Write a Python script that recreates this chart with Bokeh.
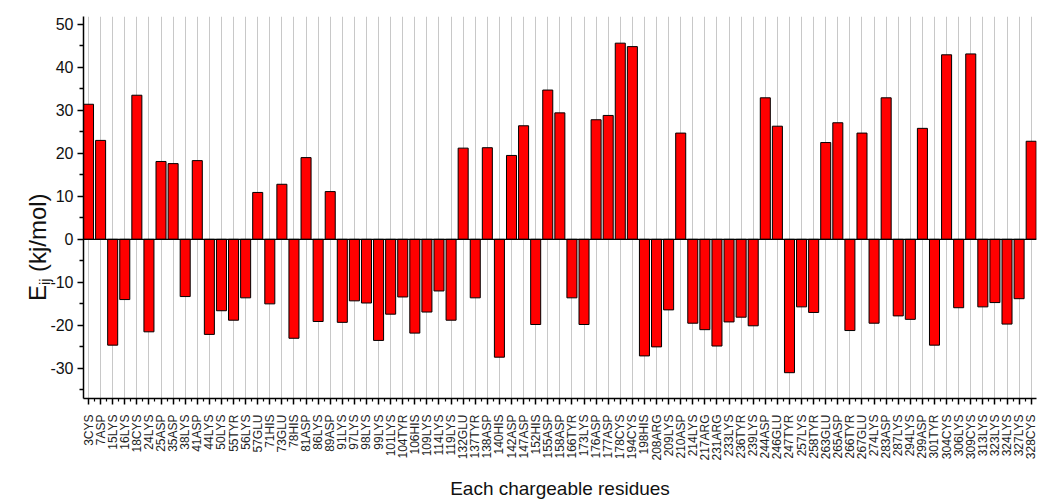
import math
from bokeh.plotting import figure
from bokeh.models import Range1d, FixedTicker, Span, ColumnDataSource, Div
from bokeh.layouts import row
from bokeh.embed import file_html
from bokeh.resources import INLINE

residues = ["3CYS", "7ASP", "15LYS", "16LYS", "18CYS", "24LYS", "25ASP", "35ASP", "38LYS", "41ASP",
            "44LYS", "50LYS", "55TYR", "56LYS", "57GLU", "71HIS", "73GLU", "78HIS", "81ASP", "86LYS",
            "89ASP", "91LYS", "97LYS", "98LYS", "99LYS", "101LYS", "104TYR", "106HIS", "109LYS", "114LYS",
            "119LYS", "132GLU", "137TYR", "138ASP", "140HIS", "142ASP", "147ASP", "152HIS", "155ASP", "158ASP",
            "166TYR", "173LYS", "176ASP", "177ASP", "178CYS", "194CYS", "198HIS", "208ARG", "209LYS", "210ASP",
            "214LYS", "217ARG", "231ARG", "233LYS", "236TYR", "239LYS", "244ASP", "246GLU", "247TYR", "257LYS",
            "258TYR", "263GLU", "265ASP", "266TYR", "267GLU", "274LYS", "283ASP", "287LYS", "294LYS", "299ASP",
            "301TYR", "304CYS", "306LYS", "309CYS", "313LYS", "323LYS", "324LYS", "327LYS", "328CYS"]

energies = [31.4, 23.0, -24.6, -14.0, 33.5, -21.5, 18.1, 17.6, -13.3, 18.3,
            -22.1, -16.6, -18.8, -13.6, 10.9, -15.0, 12.8, -23.0, 19.0, -19.1,
            11.1, -19.3, -14.3, -14.8, -23.5, -17.4, -13.4, -21.8, -16.9, -12.0,
            -18.8, 21.2, -13.6, 21.3, -27.4, 19.5, 26.4, -19.8, 34.7, 29.4,
            -13.6, -19.8, 27.8, 28.8, 45.6, 44.8, -27.1, -25.0, -16.4, 24.7,
            -19.5, -21.0, -24.8, -19.2, -18.1, -20.1, 32.9, 26.3, -31.0, -15.7,
            -17.0, 22.5, 27.1, -21.2, 24.7, -19.5, 32.9, -17.8, -18.6, 25.8,
            -24.6, 42.9, -15.9, 43.1, -15.7, -14.7, -19.7, -13.8, 22.8]

y_major = [-30, -20, -10, 0, 10, 20, 30, 40, 50]
y_major_labels = ["-30", "-20", "-10", "0", "10", "20", "30", "40", "50"]
y_minor = [-35, -25, -15, -5, 5, 15, 25, 35, 45]

pos = list(range(1, len(residues) + 1))
src = ColumnDataSource(dict(x=pos, top=energies, name=residues))

FONT = "Liberation Sans"
LABEL_W = 40

p = figure(width=1037 - LABEL_W, height=502, output_backend="svg", toolbar_location=None,
           x_range=Range1d(0.585, 79.44), y_range=Range1d(-37, 51.8),
           min_border_left=83 - LABEL_W, min_border_right=1, min_border_top=16, min_border_bottom=104)
p.outline_line_color = None
p.background_fill_color = "white"
p.border_fill_color = None

p.vbar(x="x", top="top", bottom=0, width=0.83, source=src,
       fill_color="#ff0000", line_color="black", line_width=1)
p.add_layout(Span(location=0, dimension="width", line_color="black", line_width=1.2))

# x axis
xa = p.xaxis[0]
xa.ticker = FixedTicker(ticks=pos, minor_ticks=[i + 0.5 for i in range(0, len(residues) + 1)])
xa.major_label_overrides = {i: n for i, n in zip(pos, residues)}
xa.major_label_orientation = math.pi / 2
xa.major_label_text_font = FONT
xa.major_label_text_font_size = "12px"
xa.major_label_text_color = "#222222"
xa.major_label_standoff = 10
xa.major_tick_in = 0
xa.major_tick_out = 6
xa.minor_tick_in = 0
xa.minor_tick_out = 3
xa.axis_line_color = "black"
xa.axis_line_width = 1.5
xa.major_tick_line_width = 1.5
xa.minor_tick_line_width = 1.2
xa.axis_label = "Each chargeable residues"
xa.axis_label_text_font = FONT
xa.axis_label_text_font_size = "19px"
xa.axis_label_text_font_style = "normal"
xa.axis_label_text_color = "#111111"
xa.axis_label_standoff = 14

# y axis
ya = p.yaxis[0]
ya.ticker = FixedTicker(ticks=y_major, minor_ticks=y_minor)
ya.major_label_overrides = {v: s for v, s in zip(y_major, y_major_labels)}
ya.major_label_text_font = FONT
ya.major_label_text_font_size = "16px"
ya.major_label_text_color = "#111111"
ya.major_tick_in = 0
ya.major_tick_out = 6
ya.minor_tick_in = 0
ya.minor_tick_out = 4
ya.axis_line_color = "black"
ya.axis_line_width = 1.5
ya.major_tick_line_width = 1.5
ya.minor_tick_line_width = 1.5
ya.major_label_standoff = 4

p.xgrid.grid_line_color = "#c8c8c8"
p.xgrid.grid_line_width = 1
p.ygrid.grid_line_color = None

# y axis title (with real subscript) as rotated HTML text
ylabel_html = (
    '<div style="position:relative; width:%dpx; height:502px; overflow:visible;">'
    '<div style="position:absolute; left:25px; top:301px; transform-origin:0 0; '
    'transform:rotate(-90deg); white-space:nowrap; line-height:26px; '
    "font-family:'Liberation Sans'; font-size:24px; color:#111111;\">"
    'E<sub style="font-size:14px; vertical-align:-4px;">ij</sub> (kj/mol)</div></div>'
) % LABEL_W
ylab = Div(text=ylabel_html, width=LABEL_W, height=502, margin=0,
           styles={"overflow": "visible", "z-index": "5"},
           stylesheets=[":host { overflow: visible !important; z-index: 5; } "
                        "div { overflow: visible !important; }"])

layout = row(ylab, p, spacing=0)
open("out.html", "w").write(file_html(layout, INLINE))
